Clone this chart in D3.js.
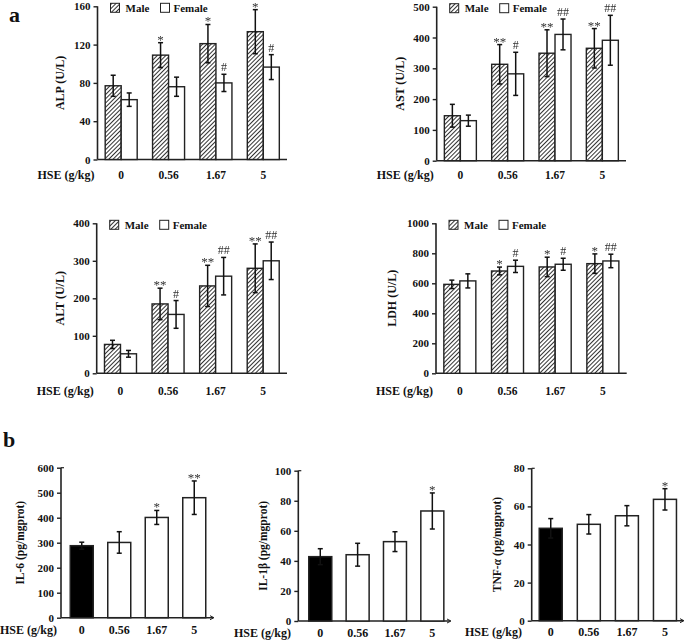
<!DOCTYPE html>
<html><head><meta charset="utf-8">
<script src="https://cdn.jsdelivr.net/npm/d3@7"></script>
<style>
body{margin:0;background:#fff;}
svg{display:block;}
text{font-family:"Liberation Serif","Times New Roman",serif;font-weight:bold;}
text.sig{font-weight:normal;}
</style></head>
<body><svg id="c" width="685" height="643"></svg>
<script>
const doses = ["0","0.56","1.67","5"];
const xTitle = "HSE (g/kg)";
const seriesNames = ["Male","Female"];

const alpMale = [77, 109, 121, 133.5], alpMaleErr = [11, 13, 20, 23];
const alpFemale = [62.5, 76, 80, 96.5], alpFemaleErr = [7, 10, 9, 13];
const alpMaleSig = ["", "*", "*", "*"], alpFemaleSig = ["", "", "#", "#"];
const alpTicks = [0, 40, 80, 120, 160];

const astMale = [146, 313, 349, 365], astMaleErr = [37, 64, 76, 64];
const astFemale = [130, 282, 410, 391], astFemaleErr = [18, 70, 50, 81];
const astMaleSig = ["", "**", "**", "**"], astFemaleSig = ["", "#", "##", "##"];
const astTicks = [0, 100, 200, 300, 400, 500];

const altMale = [77, 185, 233, 280], altMaleErr = [11, 42, 55, 65];
const altFemale = [52, 157, 259, 300], altFemaleErr = [9, 37, 50, 50];
const altMaleSig = ["", "**", "**", "**"], altFemaleSig = ["", "#", "##", "##"];
const altTicks = [0, 100, 200, 300, 400];

const ldhMale = [593, 682, 709, 731], ldhMaleErr = [28, 26, 65, 65];
const ldhFemale = [616, 713, 727, 749], ldhFemaleErr = [47, 41, 40, 45];
const ldhMaleSig = ["", "*", "*", "*"], ldhFemaleSig = ["", "#", "#", "##"];
const ldhTicks = [0, 200, 400, 600, 800, 1000];

const il6 = [288, 301, 401, 480], il6Err = [14, 43, 28, 67], il6Sig = ["", "", "*", "**"];
const il6Ticks = [0, 100, 200, 300, 400, 500, 600];
const il1b = [42.8, 44.1, 52.8, 73.2], il1bErr = [5.3, 7.6, 6.6, 12], il1bSig = ["", "", "", "*"];
const il1bTicks = [0, 20, 40, 60, 80, 100];
const tnf = [48.5, 50.6, 55.1, 63.7], tnfErr = [5.1, 5.1, 5.3, 5.6], tnfSig = ["", "", "", "*"];
const tnfTicks = [0, 20, 40, 60, 80];

const svg = d3.select("#c");
const defs = svg.append("defs");
const pat = defs.append("pattern").attr("id","hatch").attr("patternUnits","userSpaceOnUse")
  .attr("width",3).attr("height",3).attr("patternTransform","rotate(45)");
pat.append("rect").attr("width",3).attr("height",3).attr("fill","#fff");
pat.append("line").attr("x1",0).attr("y1",0).attr("x2",0).attr("y2",3)
  .attr("stroke","#333").attr("stroke-width",2);
const flt = defs.append("filter").attr("id","gray").attr("x","-50%").attr("y","-50%").attr("width","200%").attr("height","200%");
flt.append("feOffset").attr("dx",0).attr("dy",0);

const ink = "#222";

function drawAxes(g, x0, x1, yScale, ticks, tickSize, arrow){
  g.append("line").attr("x1",x0).attr("x2",x0).attr("y1",yScale(ticks[ticks.length-1])).attr("y2",yScale(0))
    .attr("stroke",ink).attr("stroke-width",1.6);
  g.append("line").attr("x1",x0).attr("x2",x1).attr("y1",yScale(0)).attr("y2",yScale(0))
    .attr("stroke",ink).attr("stroke-width",1.6);
  const ax = d3.axisLeft(yScale).tickValues(ticks).tickFormat(d3.format("d")).tickSize(4).tickSizeOuter(0).tickPadding(3);
  const ag = g.append("g").attr("transform",`translate(${x0},0)`).call(ax);
  ag.select(".domain").remove();
  ag.selectAll("line").attr("stroke",ink).attr("stroke-width",1.4);
  ag.selectAll("text").attr("font-size",tickSize).attr("fill","#111");
  if(arrow){
    const yt = yScale(ticks[ticks.length-1]);
    g.append("line").attr("x1",x0).attr("x2",x0+3).attr("y1",yt).attr("y2",yt).attr("stroke",ink).attr("stroke-width",1.2);
    const yb = yScale(0);
    g.append("path").attr("d",`M${x1-3},${yb-2}L${x1+1},${yb}L${x1-3},${yb+2}`).attr("fill","none").attr("stroke",ink).attr("stroke-width",1);
  }
}

function errBar(g, sg, cx, yScale, v, e, sig, cap){
  g.append("line").attr("x1",cx).attr("x2",cx).attr("y1",yScale(v+e)).attr("y2",yScale(v-e))
    .attr("stroke","#111").attr("stroke-width",1.5);
  [v+e, v-e].forEach(t=>{
    g.append("line").attr("x1",cx-cap).attr("x2",cx+cap).attr("y1",yScale(t)).attr("y2",yScale(t))
      .attr("stroke","#111").attr("stroke-width",1.5);
  });
  if(sig){
    const isStar = sig[0]==="*";
    sg.append("text").attr("class","sig").attr("x",cx).attr("y",yScale(v+e)-(isStar?-1:3)).attr("text-anchor","middle")
      .attr("font-size",isStar?13:12).attr("fill","#333")
      .text(sig);
  }
}

function groupedPanel(o){
  const g = svg.append("g");
  const sg = svg.append("g").attr("filter","url(#gray)");
  const y = d3.scaleLinear().domain([0, o.ticks[o.ticks.length-1]]).range([o.yb, o.yt]);
  const x = d3.scaleBand().domain(doses).range([o.x0, o.x1]).padding(0);
  const xs = d3.scaleBand().domain(seriesNames).range([0, 32]).padding(0);
  drawAxes(g, o.x0, o.x1, y, o.ticks, 11, false);
  const sets = [[o.male,o.maleErr,o.maleSig,"url(#hatch)"],[o.female,o.femaleErr,o.femaleSig,"#fff"]];
  sets.forEach((s,si)=>{
    doses.forEach((d,i)=>{
      const bx = x(d) + x.bandwidth()/2 - 16 + xs(seriesNames[si]);
      g.append("rect").attr("x",bx).attr("y",y(s[0][i])).attr("width",xs.bandwidth()).attr("height",y(0)-y(s[0][i]))
        .attr("fill",s[3]).attr("stroke","#222").attr("stroke-width",1.4);
    });
  });
  sets.forEach((s,si)=>{
    doses.forEach((d,i)=>{
      const cx = x(d) + x.bandwidth()/2 - 16 + xs(seriesNames[si]) + xs.bandwidth()/2;
      errBar(g, sg, cx, y, s[0][i], s[1][i], s[2][i], 2.5);
    });
  });
  doses.forEach(d=>{
    g.append("text").attr("x",x(d)+x.bandwidth()/2).attr("y",o.labY).attr("text-anchor","middle")
      .attr("font-size",11.5).attr("fill","#111").text(d);
  });
  g.append("text").attr("x",o.x0-60).attr("y",o.labY).attr("font-size",12).attr("fill","#111").text(xTitle);
  g.append("text").attr("transform",`translate(${o.yLabX},${(o.yt+o.yb)/2}) rotate(-90)`)
    .attr("text-anchor","middle").attr("font-size",12).attr("fill","#111").text(o.yTitle);
  const ly = o.yt + 1;
  const lx = o.x0 + 13;
  g.append("rect").attr("x",lx).attr("y",ly-4).attr("width",9).attr("height",9).attr("fill","url(#hatch)").attr("stroke","#222").attr("stroke-width",1);
  g.append("text").attr("x",lx+15).attr("y",ly+4.5).attr("font-size",11).attr("fill","#111").text(seriesNames[0]);
  g.append("rect").attr("x",lx+50).attr("y",ly-4).attr("width",9).attr("height",9).attr("fill","#fff").attr("stroke","#222").attr("stroke-width",1);
  g.append("text").attr("x",lx+63).attr("y",ly+4.5).attr("font-size",11).attr("fill","#111").text(seriesNames[1]);
}

function singlePanel(o){
  const g = svg.append("g");
  const sg = svg.append("g").attr("filter","url(#gray)");
  const y = d3.scaleLinear().domain([0, o.ticks[o.ticks.length-1]]).range([o.yb, o.yt]);
  const x = d3.scaleBand().domain(doses).range([o.bx0, o.bx1]).padding(0);
  drawAxes(g, o.x0, o.x1, y, o.ticks, 11, true);
  doses.forEach((d,i)=>{
    const cx = x(d)+x.bandwidth()/2;
    g.append("rect").attr("x",cx-11.5).attr("y",y(o.vals[i])).attr("width",23).attr("height",y(0)-y(o.vals[i]))
      .attr("fill", i===0 ? "#000" : "#fff").attr("stroke","#222").attr("stroke-width",1.5);
  });
  doses.forEach((d,i)=>{
    const cx = x(d)+x.bandwidth()/2;
    errBar(g, sg, cx, y, o.vals[i], o.errs[i], o.sig[i], 2.5);
    g.append("text").attr("x",cx).attr("y",o.labY).attr("text-anchor","middle")
      .attr("font-size",12).attr("fill","#111").text(d);
  });
  g.append("text").attr("x",o.hx).attr("y",o.labY).attr("font-size",12).attr("fill","#111").text(xTitle);
  const t = g.append("text").attr("transform",`translate(${o.yLabX},${(o.yt+o.yb)/2}) rotate(-90)`)
    .attr("text-anchor","middle").attr("font-size",11.5).attr("fill","#111");
  o.yTitle.forEach(p=>{ const ts = t.append("tspan").text(p[0]); if(p[1]) ts.attr("font-style","italic"); });
}

groupedPanel({x0:97.5,x1:287,yt:6.3,yb:159.5,ticks:alpTicks,male:alpMale,maleErr:alpMaleErr,maleSig:alpMaleSig,
  female:alpFemale,femaleErr:alpFemaleErr,femaleSig:alpFemaleSig,labY:179,yLabX:64,yTitle:"ALP (U/L)"});
groupedPanel({x0:436.7,x1:626,yt:6.7,yb:160.7,ticks:astTicks,male:astMale,maleErr:astMaleErr,maleSig:astMaleSig,
  female:astFemale,femaleErr:astFemaleErr,femaleSig:astFemaleSig,labY:179,yLabX:404,yTitle:"AST (U/L)"});
groupedPanel({x0:96.7,x1:287,yt:223.3,yb:373.3,ticks:altTicks,male:altMale,maleErr:altMaleErr,maleSig:altMaleSig,
  female:altFemale,femaleErr:altFemaleErr,femaleSig:altFemaleSig,labY:395,yLabX:64,yTitle:"ALT (U/L)"});
groupedPanel({x0:436,x1:626.7,yt:223.3,yb:373.3,ticks:ldhTicks,male:ldhMale,maleErr:ldhMaleErr,maleSig:ldhMaleSig,
  female:ldhFemale,femaleErr:ldhFemaleErr,femaleSig:ldhFemaleSig,labY:395,yLabX:396,yTitle:"LDH (U/L)"});

singlePanel({x0:61,x1:213,bx0:63,bx1:213,yt:467.7,yb:617.7,ticks:il6Ticks,vals:il6,errs:il6Err,sig:il6Sig,
  labY:634,hx:0,yLabX:24,yTitle:[["IL-6 (pg/mgprot)",false]]});
singlePanel({x0:298.3,x1:450,bx0:301.6,bx1:451,yt:470.7,yb:621,ticks:il1bTicks,vals:il1b,errs:il1bErr,sig:il1bSig,
  labY:637,hx:234,yLabX:267,yTitle:[["IL-1β (pg/mgprot)",false]]});
singlePanel({x0:531.7,x1:683,bx0:531.7,bx1:684,yt:468.3,yb:620.7,ticks:tnfTicks,vals:tnf,errs:tnfErr,sig:tnfSig,
  labY:636,hx:465,yLabX:501,yTitle:[["TNF-",false],["α",true],[" (pg/mgprot)",false]]});

svg.append("text").attr("x",9).attr("y",22).attr("font-size",22).attr("fill","#111").text("a");
svg.append("text").attr("x",3).attr("y",447).attr("font-size",22).attr("fill","#111").text("b");
</script></body></html>
